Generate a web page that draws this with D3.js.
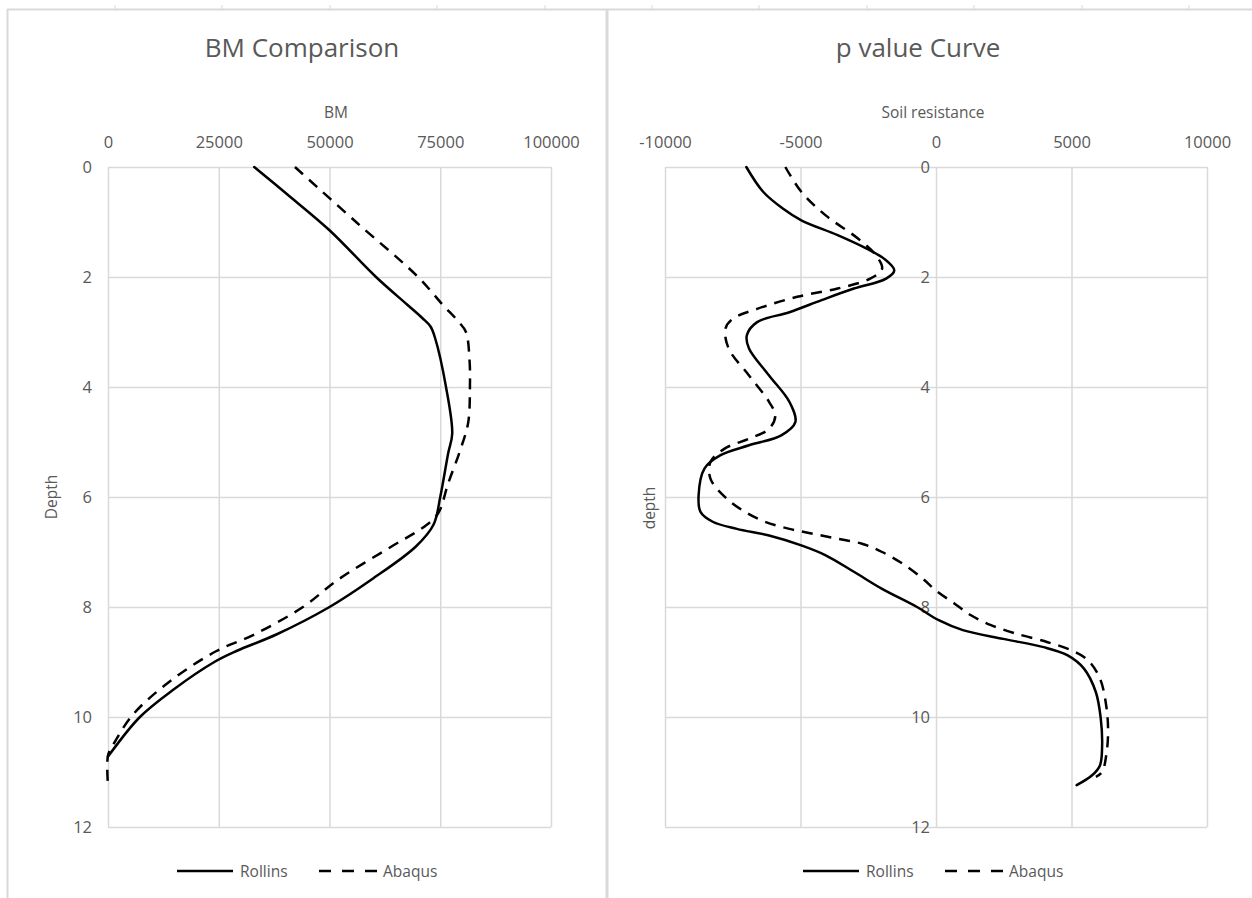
<!DOCTYPE html>
<html>
<head>
<meta charset="utf-8">
<script src="https://cdn.jsdelivr.net/npm/d3@7/dist/d3.min.js"></script>
<style>
  html, body { margin: 0; padding: 0; background: #ffffff; }
  svg { display: block; font-family: "Open Sans", sans-serif; }
  .tick text { fill: #595959; }
</style>
</head>
<body>
<svg id="chart" width="1252" height="898"></svg>
<script>
// ---- Bending moment vs depth ----
const bmTicks = [0, 25000, 50000, 75000, 100000];
const depthTicks = [0, 2, 4, 6, 8, 10, 12];

const bmRollinsDepth = [0, 0.5, 1.15, 2, 2.5, 2.75, 2.9, 3.1, 4, 4.85, 5.2, 6, 6.5, 6.9, 7.5, 8, 8.5, 8.8, 9.0, 9.5, 10, 10.72];
const bmRollins      = [33000, 40500, 50000, 60500, 67500, 71000, 72800, 73800, 76300, 77700, 76800, 75000, 73500, 69500, 59500, 50000, 38000, 29000, 24000, 14800, 7200, 0];

const bmAbaqusDepth = [0, 1, 2, 2.5, 2.8, 3.0, 3.5, 4, 4.65, 5.15, 5.75, 6.3, 6.55, 6.9, 7.5, 8, 8.5, 8.8, 9.35, 9.95, 10.5, 10.7, 11.25];
const bmAbaqus      = [42200, 56000, 70000, 75500, 79000, 80800, 81600, 81700, 81300, 79500, 76800, 74500, 71200, 64000, 52000, 44000, 33000, 24500, 14000, 5700, 1200, 0, 0];

// ---- Soil resistance (p) vs depth ----
const pTicks = [-10000, -5000, 0, 5000, 10000];

const pRollinsDepth = [0, 0.45, 0.76, 0.97, 1.24, 1.48, 1.67, 1.88, 2.03, 2.21, 2.42, 2.64, 2.82, 3.06, 3.3, 3.79, 4.27, 4.64, 4.88, 5.06, 5.24, 5.48, 5.97, 6.27, 6.45, 6.58, 6.7, 6.88, 7.06, 7.36, 7.67, 8.0, 8.24, 8.42, 8.58, 8.73, 8.88, 9.12, 9.55, 10.03, 10.52, 10.88, 11.06, 11.24];
const pRollins      = [-7000, -6380, -5640, -4970, -3630, -2580, -1910, -1540, -1840, -3030, -4220, -5410, -6600, -6980, -6900, -6160, -5410, -5190, -5710, -6900, -7950, -8540, -8760, -8690, -8240, -7350, -6160, -4970, -4070, -3030, -1990, -700, 100, 990, 2480, 3970, 4860, 5460, 5900, 6080, 6130, 6050, 5760, 5190];

const pAbaqusDepth = [0, 0.45, 0.88, 1.3, 1.61, 1.85, 2.03, 2.21, 2.36, 2.58, 2.76, 2.94, 3.3, 3.79, 4.27, 4.52, 4.76, 4.94, 5.12, 5.36, 5.67, 6.03, 6.27, 6.45, 6.58, 6.67, 6.76, 6.85, 7.0, 7.21, 7.48, 7.7, 7.94, 8.15, 8.33, 8.48, 8.64, 8.79, 8.97, 9.3, 9.79, 10.27, 10.7, 11.0, 11.09];
const pAbaqus      = [-5560, -4970, -4070, -2880, -2210, -1990, -2430, -3630, -5120, -6600, -7500, -7770, -7650, -6900, -6160, -5930, -6160, -6900, -7800, -8320, -8320, -7720, -7050, -6310, -5410, -4520, -3630, -2730, -1990, -1240, -500, 0, 690, 1290, 2030, 2930, 4120, 5010, 5610, 6050, 6280, 6350, 6280, 6130, 5900];

const seriesNames = ["Rollins", "Abaqus"];

const svg = d3.select("#chart");
const textColor = "#595959";
const gridColor = "#d9d9d9";
const plainNumber = d => String(d);

// sheet frame behind the two charts
const frame = svg.append("g").attr("stroke", gridColor).attr("fill", "none");
frame.append("line").attr("x1", 7).attr("x2", 1252).attr("y1", 9.5).attr("y2", 9.5).attr("stroke-width", 2);
frame.append("line").attr("x1", 7.5).attr("x2", 7.5).attr("y1", 9).attr("y2", 898).attr("stroke-width", 2);
frame.append("line").attr("x1", 607).attr("x2", 607).attr("y1", 9).attr("y2", 898).attr("stroke-width", 3);
[115, 222, 330, 437, 545, 652, 759, 867, 974, 1082, 1189].forEach(cx => {
  frame.append("line").attr("x1", cx).attr("x2", cx).attr("y1", 5).attr("y2", 9).attr("stroke-width", 1);
});

const dashPlot = "11,8";
const dashLegend = "12,11";

function panel(cfg) {
  const g = svg.append("g");
  const x = d3.scaleLinear().domain(cfg.xDomain).range([cfg.left, cfg.right]);
  const y = d3.scaleLinear().domain([0, 12]).range([167, 827]);

  // vertical gridlines
  g.append("g")
    .attr("transform", `translate(0,167)`)
    .call(d3.axisTop(x).tickValues(cfg.xTicks).tickSize(-660).tickFormat(""))
    .call(a => a.select(".domain").remove())
    .call(a => a.selectAll("line").attr("stroke", gridColor).attr("stroke-width", 1.5));
  // horizontal gridlines
  g.append("g")
    .attr("transform", `translate(${cfg.left},0)`)
    .call(d3.axisLeft(y).tickValues(depthTicks).tickSize(-(cfg.right - cfg.left)).tickFormat(""))
    .call(a => a.select(".domain").remove())
    .call(a => a.selectAll("line").attr("stroke", gridColor).attr("stroke-width", 1.5));

  // top tick labels
  g.append("g")
    .attr("transform", `translate(0,167)`)
    .call(d3.axisTop(x).tickValues(cfg.xTicks).tickSize(0).tickPadding(19).tickFormat(plainNumber))
    .call(a => a.select(".domain").remove())
    .call(a => a.selectAll("text").attr("font-size", 16.5).attr("font-family", "Open Sans"));

  // depth labels
  g.append("g")
    .attr("transform", `translate(${cfg.yAxisX},0)`)
    .call(d3.axisLeft(y).tickValues(depthTicks).tickSize(0).tickPadding(cfg.yPad).tickFormat(plainNumber))
    .call(a => a.select(".domain").remove())
    .call(a => a.selectAll("text").attr("font-size", 16.5).attr("font-family", "Open Sans"));

  // titles
  g.append("text").attr("x", cfg.titleX).attr("y", 57).attr("text-anchor", "middle")
    .attr("fill", textColor).attr("font-size", 26).text(cfg.title);
  g.append("text").attr("x", cfg.axisTitleX).attr("y", 118).attr("text-anchor", "middle")
    .attr("fill", textColor).attr("font-size", 15.5).text(cfg.axisTitle);
  g.append("text")
    .attr("transform", `translate(${cfg.depthX},${cfg.depthY}) rotate(-90)`)
    .attr("text-anchor", "middle").attr("fill", textColor).attr("font-size", 15.5).text(cfg.depthTitle);

  // curves
  const clipId = "clip-" + cfg.id;
  svg.append("defs").append("clipPath").attr("id", clipId)
    .append("rect").attr("x", cfg.left - 2).attr("y", 165).attr("width", cfg.right - cfg.left + 4).attr("height", 664);

  const line = d3.line().x(d => x(d.v)).y(d => y(d.d)).curve(d3.curveCatmullRom.alpha(0.5));
  const toPts = (ds, vs) => ds.map((d, i) => ({ d: d, v: vs[i] }));

  const curves = g.append("g").attr("clip-path", `url(#${clipId})`);
  curves.append("path").datum(toPts(cfg.rollinsDepth, cfg.rollins))
    .attr("d", line).attr("fill", "none").attr("stroke", "#000").attr("stroke-width", 2.5)
    .attr("stroke-linejoin", "round").attr("stroke-linecap", "round");
  curves.append("path").datum(toPts(cfg.abaqusDepth, cfg.abaqus))
    .attr("d", line).attr("fill", "none").attr("stroke", "#000").attr("stroke-width", 2.5)
    .attr("stroke-dasharray", dashPlot);

  // legend
  const lg = g.append("g").attr("transform", `translate(${cfg.legendX},871)`);
  lg.append("line").attr("x1", 0).attr("x2", 56).attr("y1", 0).attr("y2", 0)
    .attr("stroke", "#000").attr("stroke-width", 2.5);
  lg.append("text").attr("x", 63).attr("y", 6).attr("fill", textColor).attr("font-size", 15.5).text(seriesNames[0]);
  lg.append("line").attr("x1", 142).attr("x2", 200).attr("y1", 0).attr("y2", 0)
    .attr("stroke", "#000").attr("stroke-width", 2.5).attr("stroke-dasharray", dashLegend);
  lg.append("text").attr("x", 206).attr("y", 6).attr("fill", textColor).attr("font-size", 15.5).text(seriesNames[1]);
}

panel({
  id: "bm", xDomain: [0, 100000], xTicks: bmTicks, left: 108, right: 551,
  yAxisX: 108, yPad: 16,
  title: "BM Comparison", titleX: 302, axisTitle: "BM", axisTitleX: 336,
  depthTitle: "Depth", depthX: 57, depthY: 497,
  rollinsDepth: bmRollinsDepth, rollins: bmRollins,
  abaqusDepth: bmAbaqusDepth, abaqus: bmAbaqus,
  legendX: 177
});

panel({
  id: "p", xDomain: [-10000, 10000], xTicks: pTicks, left: 665, right: 1207,
  yAxisX: 937, yPad: 7,
  title: "p value Curve", titleX: 918, axisTitle: "Soil resistance", axisTitleX: 933,
  depthTitle: "depth", depthX: 655, depthY: 508,
  rollinsDepth: pRollinsDepth, rollins: pRollins,
  abaqusDepth: pAbaqusDepth, abaqus: pAbaqus,
  legendX: 803
});
</script>
</body>
</html>
